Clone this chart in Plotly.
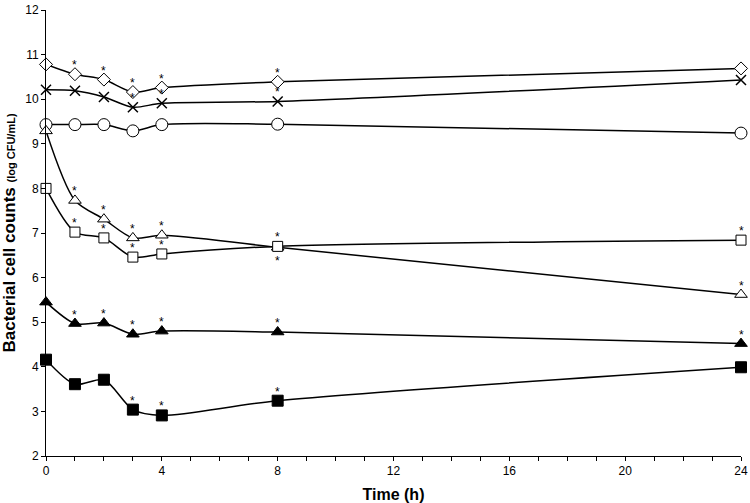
import plotly.graph_objects as go

time_h = [0, 1, 2, 3, 4, 8, 24]

diamond_open = [10.78, 10.56, 10.44, 10.16, 10.26, 10.39, 10.69]
diamond_star = ['', '*', '*', '*', '*', '*', '']

cross = [10.21, 10.19, 10.05, 9.82, 9.91, 9.95, 10.43]
cross_star = ['', '', '', '*', '*', '*', '']

circle_open = [9.43, 9.43, 9.43, 9.29, 9.43, 9.44, 9.24]
circle_star = ['', '', '', '', '', '', '']

triangle_open = [9.29, 7.73, 7.31, 6.89, 6.95, 6.68, 5.62]
triangle_open_star = ['', '*', '*', '*', '*', 'below', '*']

square_open = [8.0, 7.02, 6.89, 6.46, 6.53, 6.70, 6.84]
square_open_star = ['', '*', '*', '*', '*', '*', '*']

triangle_filled = [5.45, 4.97, 4.98, 4.73, 4.80, 4.78, 4.52]
triangle_filled_star = ['', '*', '*', '*', '*', '*', '*']

square_filled = [4.16, 3.61, 3.71, 3.04, 2.91, 3.24, 3.99]
square_filled_star = ['', '', '', '*', '*', '*', '']

series = [
    (diamond_open, diamond_star, 'diamond', 'white', 10),
    (cross, cross_star, 'x-thin', 'black', 10),
    (circle_open, circle_star, 'circle', 'white', 12),
    (triangle_open, triangle_open_star, 'triangle-up', 'white', 11),
    (square_open, square_open_star, 'square', 'white', 10),
    (triangle_filled, triangle_filled_star, 'triangle-up', 'black', 11),
    (square_filled, square_filled_star, 'square', 'black', 11),
]

fig = go.Figure()
annotations = []
for vals, stars, sym, fill, size in series:
    fig.add_trace(go.Scatter(
        x=time_h, y=vals, mode='lines+markers',
        line=dict(color='black', width=1.5, shape='spline', smoothing=0.8),
        marker=dict(symbol=sym, color=fill, size=size,
                    line=dict(color='black', width=1.5 if sym == 'x-thin' else 1)),
        cliponaxis=False, showlegend=False,
    ))
    for t, v, s in zip(time_h, vals, stars):
        if not s:
            continue
        below = s == 'below'
        annotations.append(dict(
            x=t, y=v, text='*', showarrow=False, xref='x', yref='y',
            yshift=(-5 if below else 0), yanchor=('top' if below else 'bottom'),
            font=dict(family='Liberation Sans, Arial', size=12, color='black'),
        ))

axis_font = dict(family='Liberation Sans, Arial', size=12, color='black')
fig.update_layout(
    width=750, height=503,
    margin=dict(l=46, r=9, t=10, b=47),
    plot_bgcolor='white', paper_bgcolor='white',
    annotations=annotations,
    xaxis=dict(range=[0, 24], dtick=4, tick0=0, ticks='outside', ticklen=4,
               tickcolor='black', showline=True, linecolor='black', linewidth=1,
               showgrid=False, zeroline=False, tickfont=axis_font, automargin=False,
               minor=dict(dtick=1, ticks='outside', ticklen=4, tickcolor='black', showgrid=False),
               title=dict(text='<b>Time (h)</b>', font=dict(family='Liberation Sans, Arial', size=16, color='black'))),
    yaxis=dict(range=[2, 12], dtick=1, ticks='outside', ticklen=4, tickcolor='black',
               showline=True, linecolor='black', linewidth=1, showgrid=False,
               zeroline=False, tickfont=axis_font, automargin=False,
               title=dict(text="<b>Bacterial cell counts <span style='font-size:11px'>(log CFU/mL)</span></b>",
                          font=dict(family='Liberation Sans, Arial', size=17, color='black'))),
)

fig.write_html('out.html', config={'displayModeBar': False},
               post_script="document.body.style.margin='0px';")
